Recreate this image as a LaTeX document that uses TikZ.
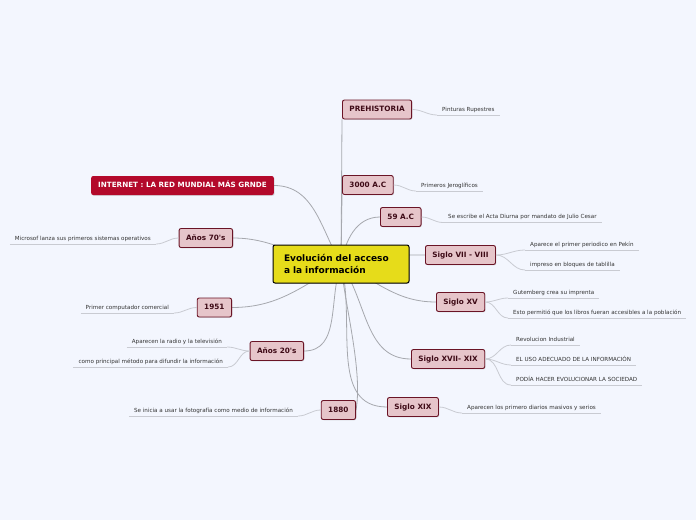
\documentclass[tikz,border=0pt]{standalone}
\usepackage{fontspec}
\setmainfont{DejaVu Sans}
\usetikzlibrary{shadows}
\definecolor{bgc}{HTML}{F3F6FE}
\definecolor{yel}{HTML}{E6DC1A}
\definecolor{pinkf}{HTML}{E6C5CA}
\definecolor{pinkd}{HTML}{6A1426}
\definecolor{pinkt}{HTML}{3E0A16}
\definecolor{redf}{HTML}{B3092B}
\definecolor{edgec}{HTML}{A6A8AE}
\definecolor{leafc}{HTML}{C9CBD2}
\definecolor{leaft}{HTML}{333333}
\pgfdeclarelayer{bg}
\pgfdeclarelayer{edges}
\pgfsetlayers{bg,edges,main}
\begin{document}
\begin{tikzpicture}[x=1pt,y=-1pt,
 shad/.style={drop shadow={opacity=0.25,shadow xshift=0.8pt,shadow yshift=-0.8pt}},
 central/.style={shad,draw=black, line width=1pt, fill=yel, rounded corners=2pt, text width=114pt, inner xsep=11pt, minimum height=38pt, align=left, font=\bfseries\fontsize{9}{12}\selectfont, text=black},
 topic/.style={shad,draw=pinkd, line width=0.9pt, fill=pinkf, rounded corners=2pt, minimum height=19pt, inner xsep=7pt, text height=5.4pt, text depth=1.3pt, font=\bfseries\fontsize{7.3}{8}\selectfont, text=pinkt},
 redtopic/.style={shad,fill=redf, rounded corners=2pt, minimum height=19pt, inner xsep=7pt, text height=5.4pt, text depth=1.3pt, font=\bfseries\fontsize{7.2}{8}\selectfont, text=white},
 leaf/.style={inner xsep=5pt, inner ysep=2.3pt, text height=4.2pt, text depth=1.3pt, font=\fontsize{5.6}{6.5}\selectfont, text=leaft},
 conn/.style={draw=edgec, line width=0.8pt},
 lconn/.style={draw=leafc, line width=0.8pt}]
\begin{pgfonlayer}{bg}
\fill[bgc] (0,0) rectangle (696,520);
\end{pgfonlayer}
\useasboundingbox (0,0) rectangle (696,520);

% central
\node[central] (c) at (341,264) {Evolución del acceso\\a la información};

% right topics
\node[topic, anchor=west] (pre) at (342,109.5) {PREHISTORIA};
\node[topic, anchor=west] (a3000) at (342,185) {3000 A.C};
\node[topic, anchor=west] (a59) at (380,217) {59 A.C};
\node[topic, anchor=west] (s78) at (425,255) {Siglo VII - VIII};
\node[topic, anchor=west] (s15) at (436,302) {Siglo XV};
\node[topic, anchor=west] (s1719) at (411,359) {Siglo XVII- XIX};
\node[topic, anchor=west] (s19) at (387,407) {Siglo XIX};

% left topics
\node[topic, anchor=east] (y1880) at (356,410) {1880};
\node[topic, anchor=east] (y20) at (304,351) {Años 20\textquotesingle s};
\node[topic, anchor=east] (y51) at (232,307.5) {1951};
\node[topic, anchor=east] (y70) at (233,238) {Años 70\textquotesingle s};
\node[redtopic, anchor=east] (inet) at (274,185.5) {INTERNET : LA RED MUNDIAL MÁS GRNDE};

% leaves right
\node[leaf, anchor=south west] (l1) at (437,115) {Pinturas Rupestres};
\node[leaf, anchor=south west] (l2) at (416,191) {Primeros Jeroglíficos};
\node[leaf, anchor=south west] (l3) at (443,222.5) {Se escribe el Acta Diurna por mandato de Julio Cesar};
\node[leaf, anchor=south west] (l4) at (525,250) {Aparece el primer periodico en Pekín};
\node[leaf, anchor=south west] (l5) at (525,270) {impreso en bloques de tablilla};
\node[leaf, anchor=south west] (l6) at (508,298) {Gutemberg crea su imprenta};
\node[leaf, anchor=south west] (l7) at (508,318) {Esto permitió que los libros fueran accesibles a la población};
\node[leaf, anchor=south west] (l8) at (511,345) {Revolucion Industrial};
\node[leaf, anchor=south west] (l9) at (511,365) {EL USO ADECUADO DE LA INFORMACIÓN};
\node[leaf, anchor=south west] (l10) at (511,385) {PODÍA HACER EVOLUCIONAR LA SOCIEDAD};
\node[leaf, anchor=south west] (l11) at (462,413) {Aparecen los primero diarios masivos y serios};
% leaves left
\node[leaf, anchor=south east] (l12) at (298,416) {Se inicia a usar la fotografía como medio de información};
\node[leaf, anchor=south east] (l13) at (227,347) {Aparecen la radio y la televisión};
\node[leaf, anchor=south east] (l14) at (228,367) {como principal método para difundir la información};
\node[leaf, anchor=south east] (l15) at (174,313) {Primer computador comercial};
\node[leaf, anchor=south east] (l16) at (156,244) {Microsof lanza sus primeros sistemas operativos};

\foreach \n in {l1,l2,l3,l4,l5,l6,l7,l8,l9,l10,l11,l12,l13,l14,l15,l16}
  \draw[lconn] (\n.south west) -- (\n.south east);

% leaf connectors
\draw[lconn] (pre.east) to[out=0,in=180] (l1.south west);
\draw[lconn] (a3000.east) to[out=0,in=180] (l2.south west);
\draw[lconn] (a59.east) to[out=0,in=180] (l3.south west);
\draw[lconn] (s78.east) to[out=0,in=180] (l4.south west);
\draw[lconn] (s78.east) to[out=0,in=180] (l5.south west);
\draw[lconn] (s15.east) to[out=0,in=180] (l6.south west);
\draw[lconn] (s15.east) to[out=0,in=180] (l7.south west);
\draw[lconn] (s1719.east) to[out=0,in=180] (l8.south west);
\draw[lconn] (s1719.east) to[out=0,in=180] (l9.south west);
\draw[lconn] (s1719.east) to[out=0,in=180] (l10.south west);
\draw[lconn] (s19.east) to[out=0,in=180] (l11.south west);
\draw[lconn] (y1880.west) to[out=180,in=0] (l12.south east);
\draw[lconn] (y20.west) to[out=180,in=0] (l13.south east);
\draw[lconn] (y20.west) to[out=180,in=0] (l14.south east);
\draw[lconn] (y51.west) to[out=180,in=0] (l15.south east);
\draw[lconn] (y70.west) to[out=180,in=0] (l16.south east);

% main connectors
\begin{pgfonlayer}{edges}
\draw[conn] (c.center) -- (pre.south west);
\draw[conn] (c.center) -- (a3000.south west);
\draw[conn] (c.center) to[out=80,in=180] (a59.west);
\draw[conn] (c.center) to[out=15,in=180] (s78.west);
\draw[conn] (c.center) to[out=-25,in=180] (s15.west);
\draw[conn] (c.center) to[out=-55,in=180] (s1719.west);
\draw[conn] (c.center) to[out=-75,in=180] (s19.west);
\draw[conn] (c.center) to[out=-85,in=80,looseness=0.7] (y1880.east);
\draw[conn] (c.center) to[out=-110,in=0] (y20.east);
\draw[conn] (c.center) to[out=-150,in=0] (y51.east);
\draw[conn] (c.center) to[out=175,in=0] (y70.east);
\draw[conn] (c.center) to[out=120,in=0] (inet.east);
\end{pgfonlayer}
\end{tikzpicture}
\end{document}
